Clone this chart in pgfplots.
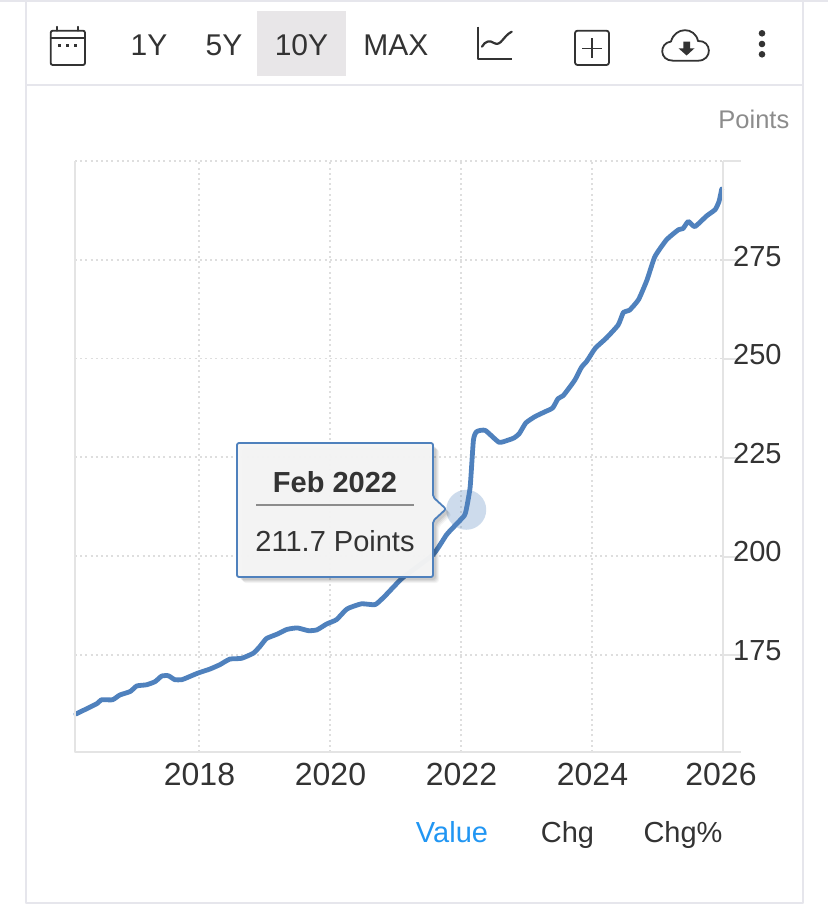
\documentclass[border=0pt]{standalone}
\usepackage{pgfplots}
\pgfplotsset{compat=1.18}
\usepackage{fontspec}
\setmainfont{Liberation Sans}
\definecolor{lineblue}{HTML}{4F81BD}
\definecolor{frame}{HTML}{E6E6EC}
\definecolor{axisg}{HTML}{E4E4E4}
\definecolor{gridg}{HTML}{DEDEDE}
\definecolor{txt}{HTML}{333333}
\definecolor{valblue}{HTML}{2196F3}
\definecolor{btn}{HTML}{E8E6E8}
\newcommand{\fs}[1]{\fontsize{#1}{#1}\selectfont}
\pgfplotstableread{
yr val
2016.12 160.0
2016.44 162.6
2016.51 163.6
2016.68 163.6
2016.79 164.8
2016.95 165.7
2017.05 167.1
2017.20 167.4
2017.33 168.2
2017.43 169.6
2017.53 169.7
2017.63 168.7
2017.74 168.7
2017.86 169.5
2017.99 170.4
2018.17 171.4
2018.32 172.5
2018.47 173.9
2018.65 174.1
2018.83 175.4
2018.93 177.1
2019.03 179.1
2019.19 180.2
2019.34 181.4
2019.50 181.8
2019.67 181.1
2019.80 181.3
2019.95 182.8
2020.10 183.9
2020.26 186.6
2020.48 187.9
2020.69 187.7
2020.84 189.9
2021.11 194.5
2021.57 200.3
2021.78 205.4
2021.92 207.9
2022.05 210.2
2022.08 211.7
2022.14 217.5
2022.19 229.4
2022.24 231.5
2022.37 231.8
2022.58 228.8
2022.73 229.4
2022.81 229.9
2022.89 231.0
2022.99 233.7
2023.13 235.3
2023.28 236.5
2023.40 237.5
2023.48 239.8
2023.56 240.6
2023.64 242.3
2023.74 244.6
2023.84 247.8
2023.92 249.3
2024.05 252.6
2024.22 255.2
2024.40 258.5
2024.48 261.7
2024.57 262.2
2024.71 264.9
2024.84 269.9
2024.96 275.8
2025.14 280.1
2025.32 282.6
2025.39 282.9
2025.47 284.7
2025.57 283.4
2025.75 286.1
2025.88 287.7
2025.94 289.8
2025.98 292.9
}\series
\pgfplotsset{gridl/.style={gridg,line width=1.9pt,line cap=butt,dash pattern=on 2pt off 3.2pt,forget plot}}
\begin{document}
\begin{tikzpicture}[x=1pt,y=-1pt,line cap=round,line join=round]
\useasboundingbox (0,0) rectangle (828,911);
% page and frame
\fill[white] (0,0) rectangle (828,911);
\draw[frame,line width=2pt,line cap=butt] (25.5,1) -- (25.5,902.5) -- (802.5,902.5) -- (802.5,1);
\draw[frame,line width=2pt,line cap=butt] (0,1) -- (828,1);
\draw[frame,line width=2pt,line cap=butt] (25.5,85) -- (802.5,85);
% range buttons
\fill[btn] (257,11) rectangle (346,76);
\node[anchor=center,text=txt] at (149,45.5) {\fs{30}1Y};
\node[anchor=center,text=txt] at (224,45.5) {\fs{30}5Y};
\node[anchor=center,text=txt] at (301.5,45.5) {\fs{30}10Y};
\node[anchor=center,text=txt] at (396,45.5) {\fs{30}MAX};
% calendar
\draw[txt,line width=1.8pt,rounded corners=2pt] (50.7,30.7) rectangle (85,65);
\draw[txt,line width=1.8pt] (50.7,38.3) -- (85,38.3);
\draw[txt,line width=1.8pt] (56.7,26.7) -- (56.7,30.7) (78.3,26.7) -- (78.3,30.7);
\foreach \cx in {59.5,67.5,75.5}{\fill[txt] (\cx-1.6,43.5) rectangle (\cx+1.6,46.5);}
% line chart icon
\draw[txt,line width=2pt,line cap=butt] (478.3,26.7) -- (478.3,59.3) -- (511.7,59.3);
\draw[txt,line width=2.2pt] (482,46.7) .. controls (485,41) and (490,40) .. (494,43) .. controls (501,47) and (503,36) .. (511.7,31.7);
% plus box
\draw[txt,line width=1.8pt,rounded corners=2.5pt] (575,30.7) rectangle (609,65);
\draw[txt,line width=1.4pt,line cap=butt] (592,38.3) -- (592,58.3) (582,48.3) -- (602,48.3);
% cloud
\draw[txt,line width=1.8pt] (673,60.7) .. controls (659,60.7) and (659,43) .. (671,41.5) .. controls (675,26.5) and (695,26.5) .. (698,41) .. controls (712,40) and (713,60.7) .. (698,60.7) -- cycle;
\fill[txt] (683.3,41.7) -- (690,41.7) -- (690,48.3) -- (694.5,48.3) -- (686.6,55.5) -- (678.5,48.3) -- (683.3,48.3) -- cycle;
% dots
\foreach \cy in {33.3,44,54.3}{\fill[txt] (762,\cy) circle (3.3pt);}
% Points
\node[anchor=base east,inner sep=0pt,text=black!45] at (789.5,128) {\fs{25.5}Points};
% chart
\begin{axis}[
  at={(75pt,-752pt)},anchor=south west,
  scale only axis,width=648pt,height=591pt,
  xmin=2016.107,xmax=2026,ymin=150.38,ymax=300,
  axis lines=none,
  clip=false,
  ]
\addplot[gridl] coordinates {(2018,150.38) (2018,300)};
\addplot[gridl] coordinates {(2020,150.38) (2020,300)};
\addplot[gridl] coordinates {(2022,150.38) (2022,300)};
\addplot[gridl] coordinates {(2024,150.38) (2024,300)};
\addplot[gridl] coordinates {(2016.107,175) (2026,175)};
\addplot[gridl] coordinates {(2016.107,200) (2026,200)};
\addplot[gridl] coordinates {(2016.107,225) (2026,225)};
\addplot[gridl] coordinates {(2016.107,250) (2026,250)};
\addplot[gridl] coordinates {(2016.107,275) (2026,275)};
\addplot[gridl] coordinates {(2016.107,300) (2026,300)};
\addplot[only marks,draw opacity=0,mark=*,mark size=20pt,mark options={draw opacity=0,draw=none,fill=lineblue,fill opacity=0.28}] coordinates {(2022.08,211.7)};
\addplot[lineblue,line width=4.8pt,smooth,tension=0.3,line cap=round,line join=round] table[x=yr,y=val] {\series};
\end{axis}
% axis lines
\draw[axisg,line width=2pt,line cap=butt] (75,161) -- (75,752) -- (723,752);
\draw[axisg,line width=2pt,line cap=butt] (723,161) -- (723,752);
\foreach \ty in {161,260,359,458,557,655,752}{\draw[axisg,line width=1.6pt,line cap=butt] (723,\ty) -- (741,\ty);}
\foreach \ty/\tl in {257/275,355/250,454/225,552/200,651/175}{\node[anchor=west,inner sep=0pt,text=txt] at (733,\ty) {\fs{29}\tl};}
\foreach \tx/\tl in {199.5/2018,330.5/2020,461.5/2022,592.5/2024,721/2026}{\node[anchor=center,inner sep=0pt,text=txt] at (\tx,774) {\fs{32}\tl};}
% tooltip
\foreach \off/\op in {6/0.04,5/0.05,4/0.06,3/0.07}{
\fill[black,opacity=\op,rounded corners=3pt] (237+\off,443+\off) -- (433+\off,443+\off) -- (433+\off,497+\off) -- (446+\off,509+\off) -- (433+\off,521+\off) -- (433+\off,577+\off) -- (237+\off,577+\off) -- cycle;}
\path[fill=white!96!black,fill opacity=0.97,draw=lineblue,line width=1.8pt,rounded corners=2pt]
 (237,443) -- (433,443) -- (433,497) -- (446,509) -- (433,521) -- (433,577) -- (237,577) -- cycle;
\node[text=txt] at (335,482) {\fs{29}\bfseries Feb 2022};
\draw[black!45,line width=1.3pt,line cap=butt] (256,505) -- (414,505);
\node[text=txt] at (335,541) {\fs{29}211.7 Points};
% bottom tabs
\node[anchor=base,inner sep=0pt,text=valblue] at (452,842) {\fs{29}Value};
\node[anchor=base,inner sep=0pt,text=txt] at (567.5,842) {\fs{29}Chg};
\node[anchor=base,inner sep=0pt,text=txt] at (683,842) {\fs{29}Chg\%};
\end{tikzpicture}
\end{document}
